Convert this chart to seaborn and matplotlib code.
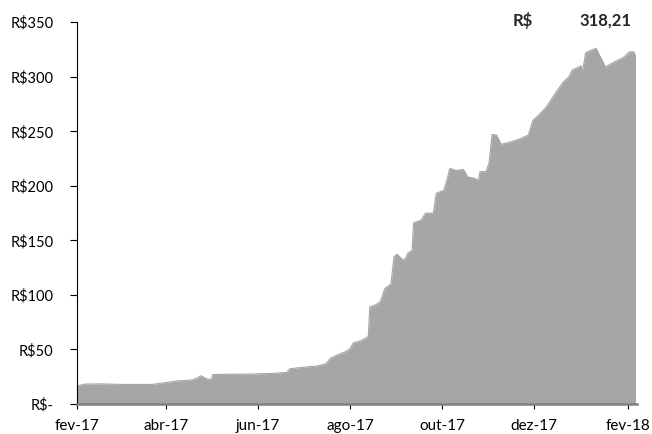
import numpy as np
import pandas as pd
import matplotlib
matplotlib.use("Agg")
import matplotlib.pyplot as plt
from matplotlib.ticker import FuncFormatter
import seaborn as sns

# price series (date, value in R$)
dates = ["2017-02-01", "2017-02-06", "2017-02-16", "2017-03-02", "2017-03-23",
         "2017-03-31", "2017-04-07", "2017-04-18", "2017-04-22", "2017-04-24",
         "2017-04-28", "2017-05-01", "2017-05-02", "2017-05-07", "2017-05-27",
         "2017-06-09", "2017-06-20", "2017-06-22", "2017-06-29", "2017-07-10",
         "2017-07-16", "2017-07-19", "2017-07-22", "2017-07-26", "2017-07-29",
         "2017-08-01", "2017-08-03", "2017-08-08", "2017-08-12", "2017-08-13",
         "2017-08-14", "2017-08-18", "2017-08-21", "2017-08-24", "2017-08-28",
         "2017-08-30", "2017-09-01", "2017-09-05", "2017-09-07", "2017-09-08",
         "2017-09-11", "2017-09-12", "2017-09-17", "2017-09-20", "2017-09-25",
         "2017-09-27", "2017-10-02", "2017-10-04", "2017-10-06", "2017-10-10",
         "2017-10-15", "2017-10-18", "2017-10-22", "2017-10-25", "2017-10-26",
         "2017-10-30", "2017-11-01", "2017-11-03", "2017-11-06", "2017-11-09",
         "2017-11-15", "2017-11-22", "2017-11-27", "2017-11-30", "2017-12-04",
         "2017-12-09", "2017-12-14", "2017-12-20", "2017-12-24", "2017-12-26",
         "2018-01-01", "2018-01-02", "2018-01-04", "2018-01-07", "2018-01-11",
         "2018-01-13", "2018-01-15", "2018-01-17", "2018-01-21", "2018-01-25",
         "2018-01-29", "2018-02-02", "2018-02-05", "2018-02-06"]
prices = [16.5, 18.3, 18.5, 18.0, 18.0,
          19.5, 21.0, 22.0, 24.0, 26.0,
          23.0, 22.6, 27.0, 27.2, 27.5,
          28.0, 29.0, 32.3, 33.5, 34.8,
          37.0, 42.0, 44.0, 46.5, 48.0,
          51.0, 56.0, 58.0, 61.0, 62.0,
          89.0, 91.0, 94.0, 106.0, 110.0,
          135.0, 137.4, 132.0, 134.0, 138.0,
          141.0, 166.0, 168.6, 175.0, 174.7,
          193.0, 196.0, 205.0, 216.0, 214.0,
          215.0, 208.0, 207.0, 205.0, 213.0,
          213.0, 221.0, 247.0, 246.5, 238.0,
          240.0, 243.4, 246.5, 260.0, 265.0,
          272.4, 283.0, 295.0, 300.0, 306.0,
          310.0, 305.5, 322.0, 324.0, 326.0,
          320.0, 315.0, 309.0, 312.0, 315.0,
          317.6, 322.8, 322.8, 318.2]

tick_dates = ["2017-02-01", "2017-04-01", "2017-06-01", "2017-08-01",
              "2017-10-01", "2017-12-01", "2018-02-01"]
tick_labels = ["fev-17", "abr-17", "jun-17", "ago-17", "out-17", "dez-17", "fev-18"]
last_label = "318,21"

df = pd.DataFrame({"date": pd.to_datetime(dates), "price": prices})

sns.set_style("white")
plt.rcParams["font.family"] = ["Lato", "DejaVu Sans"]

fig = plt.figure(figsize=(6.52, 4.34), dpi=100)
ax = fig.add_axes([0.118, 0.069, 0.859, 0.88])

gray = "#a6a6a6"
sns.lineplot(data=df, x="date", y="price", color=gray, linewidth=0.8, ax=ax)
ax.fill_between(df["date"], df["price"], 0, color=gray, linewidth=0)

ax.set_xlim(pd.Timestamp("2017-02-01"), pd.Timestamp("2018-02-07"))
ax.set_ylim(0, 350)
ax.set_yticks(np.arange(0, 351, 50))
ax.yaxis.set_major_formatter(FuncFormatter(lambda v, p: "R$-" if v == 0 else f"R${v:.0f}"))
ax.set_xticks(pd.to_datetime(tick_dates))
ax.set_xticklabels(tick_labels)

ax.set_xlabel("")
ax.set_ylabel("")
for s in ["top", "right"]:
    ax.spines[s].set_visible(False)
ax.spines["left"].set_color("black")
ax.spines["left"].set_linewidth(0.8)
ax.spines["bottom"].set_color("#7f7f7f")
ax.spines["bottom"].set_linewidth(1.8)
ax.tick_params(axis="y", labelsize=10.5, colors="black", direction="out",
               length=5, width=0.8, left=True, pad=12)
ax.tick_params(axis="x", labelsize=11, colors="black", direction="out",
               length=3.6, width=0.8, bottom=True, pad=7)

# value box at the top right
ax.text(0.796, 1.003, "R$", transform=ax.transAxes, ha="center", va="center",
        fontsize=12, fontweight="bold")
ax.text(0.943, 1.003, last_label, transform=ax.transAxes, ha="center", va="center",
        fontsize=12, fontweight="bold")

fig.savefig("out.png", dpi=100)
